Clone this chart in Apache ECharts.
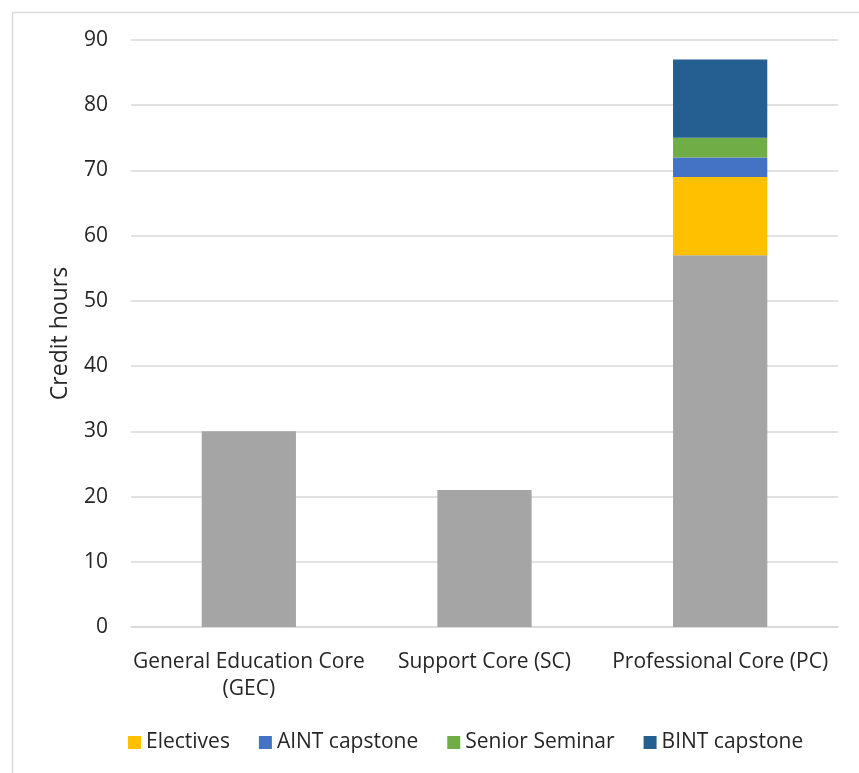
<!DOCTYPE html>
<html>
<head>
<meta charset="utf-8">
<script src="https://cdn.jsdelivr.net/npm/echarts@6/dist/echarts.min.js"></script>
<style>
  html, body { margin: 0; padding: 0; background: #fff; }
  #chart { width: 859px; height: 773px; }
</style>
</head>
<body>
<div id="chart"></div>
<script>
var categories = ['General Education Core\n(GEC)', 'Support Core (SC)', 'Professional Core (PC)'];
var coreHours = [30, 21, 57];
var electives = ['-', '-', 12];
var aintCapstone = ['-', '-', 3];
var seniorSeminar = ['-', '-', 3];
var bintCapstone = ['-', '-', 12];

var dom = document.getElementById('chart');
var myChart = echarts.init(dom);
var font = 'Open Sans';

function stackBar(name, data, color) {
    return {
        name: name,
        type: 'bar',
        stack: 'total',
        barWidth: '40%',
        data: data,
        itemStyle: { color: color },
        emphasis: { disabled: true }
    };
}

var option = {
    animation: false,
    textStyle: { fontFamily: font },
    graphic: [{
        type: 'rect',
        left: 10, top: 10,
        shape: { width: 870, height: 790 },
        style: { fill: 'none', stroke: '#d9d9d9', lineWidth: 1.5 },
        silent: true
    }],
    grid: { left: 131, right: 21, top: 40, bottom: 146 },
    legend: {
        data: ['Electives', 'AINT capstone', 'Senior Seminar', 'BINT capstone'],
        bottom: 15,
        left: 123,
        icon: 'rect',
        itemWidth: 13,
        itemHeight: 13,
        itemGap: 29,
        textStyle: { fontSize: 21, color: '#262626', fontFamily: font }
    },
    xAxis: {
        type: 'category',
        data: categories,
        axisLine: { lineStyle: { color: '#d9d9d9', width: 1.5 } },
        axisTick: { show: false },
        axisLabel: { fontSize: 21, color: '#262626', margin: 22, lineHeight: 27, interval: 0 }
    },
    yAxis: {
        type: 'value',
        min: 0, max: 90, interval: 10,
        name: 'Credit hours',
        nameLocation: 'middle',
        nameGap: 59,
        nameTextStyle: { fontSize: 23, color: '#262626' },
        axisLabel: { fontSize: 21, color: '#262626', margin: 23 },
        splitLine: { lineStyle: { color: '#d9d9d9', width: 1.5 } }
    },
    series: [
        stackBar('Core', coreHours, '#a5a5a5'),
        stackBar('Electives', electives, '#ffc000'),
        stackBar('AINT capstone', aintCapstone, '#4472c4'),
        stackBar('Senior Seminar', seniorSeminar, '#70ad47'),
        stackBar('BINT capstone', bintCapstone, '#255e91')
    ]
};

if (option && typeof option === 'object') {
    myChart.setOption(option);
}
</script>
</body>
</html>
